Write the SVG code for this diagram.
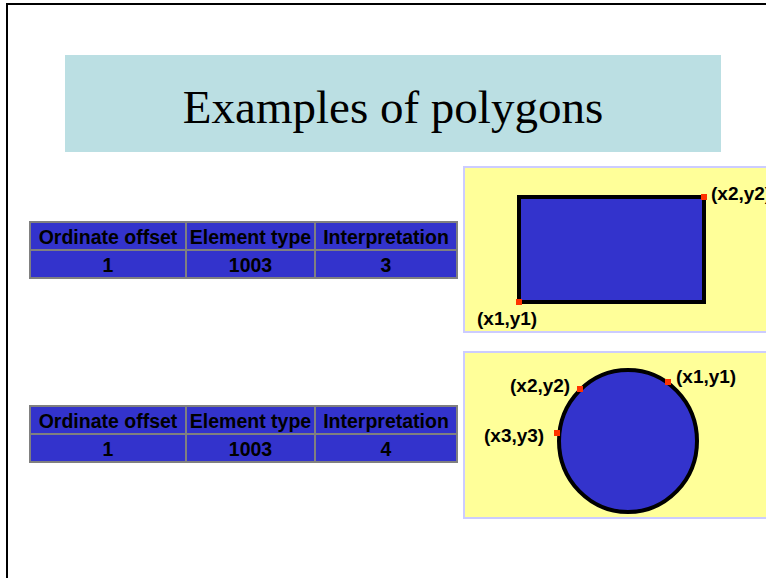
<svg xmlns="http://www.w3.org/2000/svg" width="766" height="578" viewBox="0 0 766 578">
<style>
.cell{fill:#3333cc;stroke:#808080;stroke-width:2}
.th{font-family:"Liberation Sans",Arial,sans-serif;font-weight:bold;font-size:19.5px;fill:#000;text-anchor:middle}
.lbl{font-family:"Liberation Sans",Arial,sans-serif;font-weight:bold;font-size:19px;fill:#000}
.panel{fill:#ffff99;stroke:#ccccff;stroke-width:2}
.shape{fill:#3333cc;stroke:#000;stroke-width:4}
.pt{fill:#ff3300}
</style>
<rect x="0" y="0" width="766" height="578" fill="#fff"/>
<rect x="7" y="4" width="800" height="620" fill="none" stroke="#000" stroke-width="2"/>
<g id="title">
<rect x="65" y="55" width="656" height="97" fill="#bbdfe3"/>
<text x="393" y="123" font-family="'Liberation Serif','Times New Roman',serif" font-size="47" text-anchor="middle" fill="#000">Examples of polygons</text>
</g>
<g id="table1">
<rect class="cell" x="30" y="222" width="156" height="28"/>
<rect class="cell" x="186" y="222" width="129" height="28"/>
<rect class="cell" x="315" y="222" width="142" height="28"/>
<rect class="cell" x="30" y="250" width="156" height="28"/>
<rect class="cell" x="186" y="250" width="129" height="28"/>
<rect class="cell" x="315" y="250" width="142" height="28"/>
<text class="th" x="108" y="244">Ordinate offset</text>
<text class="th" x="250.5" y="244">Element type</text>
<text class="th" x="386" y="244">Interpretation</text>
<text class="th" x="108" y="272">1</text>
<text class="th" x="250.5" y="272">1003</text>
<text class="th" x="386" y="272">3</text>
</g>
<g id="table2">
<rect class="cell" x="30" y="406" width="156" height="28"/>
<rect class="cell" x="186" y="406" width="129" height="28"/>
<rect class="cell" x="315" y="406" width="142" height="28"/>
<rect class="cell" x="30" y="434" width="156" height="28"/>
<rect class="cell" x="186" y="434" width="129" height="28"/>
<rect class="cell" x="315" y="434" width="142" height="28"/>
<text class="th" x="108" y="428">Ordinate offset</text>
<text class="th" x="250.5" y="428">Element type</text>
<text class="th" x="386" y="428">Interpretation</text>
<text class="th" x="108" y="456">1</text>
<text class="th" x="250.5" y="456">1003</text>
<text class="th" x="386" y="456">4</text>
</g>
<g id="rect-panel">
<rect class="panel" x="464" y="167" width="320" height="165"/>
<rect class="shape" x="519" y="197" width="185" height="105"/>
<rect class="pt" x="516" y="299" width="6" height="6"/>
<rect class="pt" x="701" y="194" width="6" height="6"/>
<text class="lbl" x="711" y="200">(x2,y2)</text>
<text class="lbl" x="477" y="325">(x1,y1)</text>
</g>
<g id="circle-panel">
<rect class="panel" x="464" y="352" width="320" height="166"/>
<ellipse class="shape" cx="628" cy="441" rx="69" ry="71"/>
<rect class="pt" x="665" y="379" width="6" height="6"/>
<rect class="pt" x="577" y="386" width="6" height="6"/>
<rect class="pt" x="554" y="430" width="6" height="6"/>
<text class="lbl" x="676" y="383">(x1,y1)</text>
<text class="lbl" x="510" y="392">(x2,y2)</text>
<text class="lbl" x="484" y="442">(x3,y3)</text>
</g>
<g id="connectors"/>
</svg>
